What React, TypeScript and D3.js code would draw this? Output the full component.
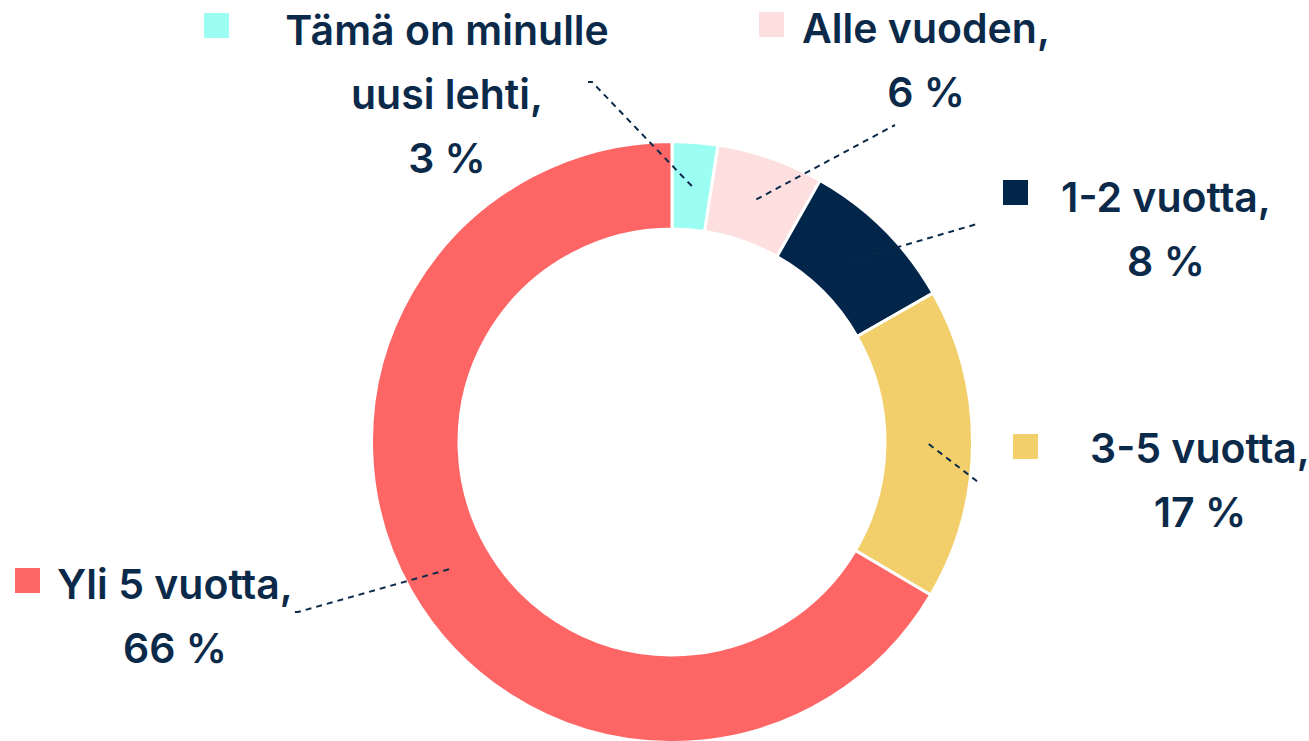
import React from 'react';
import * as d3 from 'd3';

// answer categories, clockwise from 12 o'clock
const categories = ['Tämä on minulle uusi lehti', 'Alle vuoden', '1-2 vuotta', '3-5 vuotta', 'Yli 5 vuotta'];
// slice sizes (the printed labels are rounded)
const values = [2.45, 5.75, 8.55, 16.75, 66.5];
const labelLines = [
  ['Tämä on minulle', 'uusi lehti,', '3 %'],
  ['Alle vuoden,', '6 %'],
  ['1-2 vuotta,', '8 %'],
  ['3-5 vuotta,', '17 %'],
  ['Yli 5 vuotta,', '66 %'],
];
const colors = ['#9cfdf3', '#fddfe0', '#02254a', '#f2cf6a', '#fe6565'];

const W = 1309;
const H = 741;
const NAVY = '#0b2a4a';

// label placement (text centre x, first baseline y), legend square, leader end
const layout = [
  { tx: 447, ty: 45, sq: [204, 13], end: [592, 82], hook: -4 },
  { tx: 926, ty: 43, sq: [759, 12], end: [895, 125], hook: 0 },
  { tx: 1166, ty: 212, sq: [1003, 180], end: [977, 224], hook: 0 },
  { tx: 1200, ty: 463, sq: [1013, 434], end: [978, 482], hook: 0 },
  { tx: 175, ty: 599, sq: [15, 568], end: [298, 612], hook: -5 },
];

export default function App() {
  const cx = 672;
  const cy = 442;
  const outerR = 300.5;
  const innerR = 213;

  const pie = d3.pie<number>().sort(null).value((d) => d);
  const arcs = pie(values);
  const arc = d3.arc<d3.PieArcDatum<number>>().innerRadius(innerR).outerRadius(outerR);
  const midR = (innerR + outerR) / 2;
  const midArc = d3.arc<d3.PieArcDatum<number>>().innerRadius(midR).outerRadius(midR);

  return (
    <svg width={W} height={H} style={{ position: 'absolute', left: 0, top: 0 }}>
      <rect width={W} height={H} fill="#fff" />
      <g transform={`translate(${cx},${cy})`}>
        {arcs.map((a, i) => (
          <path key={i} d={arc(a) || ''} fill={colors[i]} stroke="#fff" strokeWidth={3} />
        ))}
      </g>
      {arcs.map((a, i) => {
        const [mx, my] = midArc.centroid(a);
        const l = layout[i];
        return (
          <path
            key={'l' + i}
            d={`M${cx + mx},${cy + my}L${l.end[0]},${l.end[1]}l${l.hook},0`}
            fill="none"
            stroke={NAVY}
            strokeWidth={2}
            strokeDasharray="6,5"
          />
        );
      })}
      {categories.map((c, i) => {
        const l = layout[i];
        return (
          <g key={'t' + i}>
            <rect x={l.sq[0]} y={l.sq[1]} width={25} height={25} fill={colors[i]} />
            <text
              textAnchor="middle"
              fontFamily="Inter, 'Noto Sans', sans-serif"
              fontWeight={600}
              fontSize={41}
              fill={NAVY}
            >
              {labelLines[i].map((t, j) => (
                <tspan key={j} x={l.tx} y={l.ty + j * 64}>
                  {t}
                </tspan>
              ))}
            </text>
          </g>
        );
      })}
    </svg>
  );
}
